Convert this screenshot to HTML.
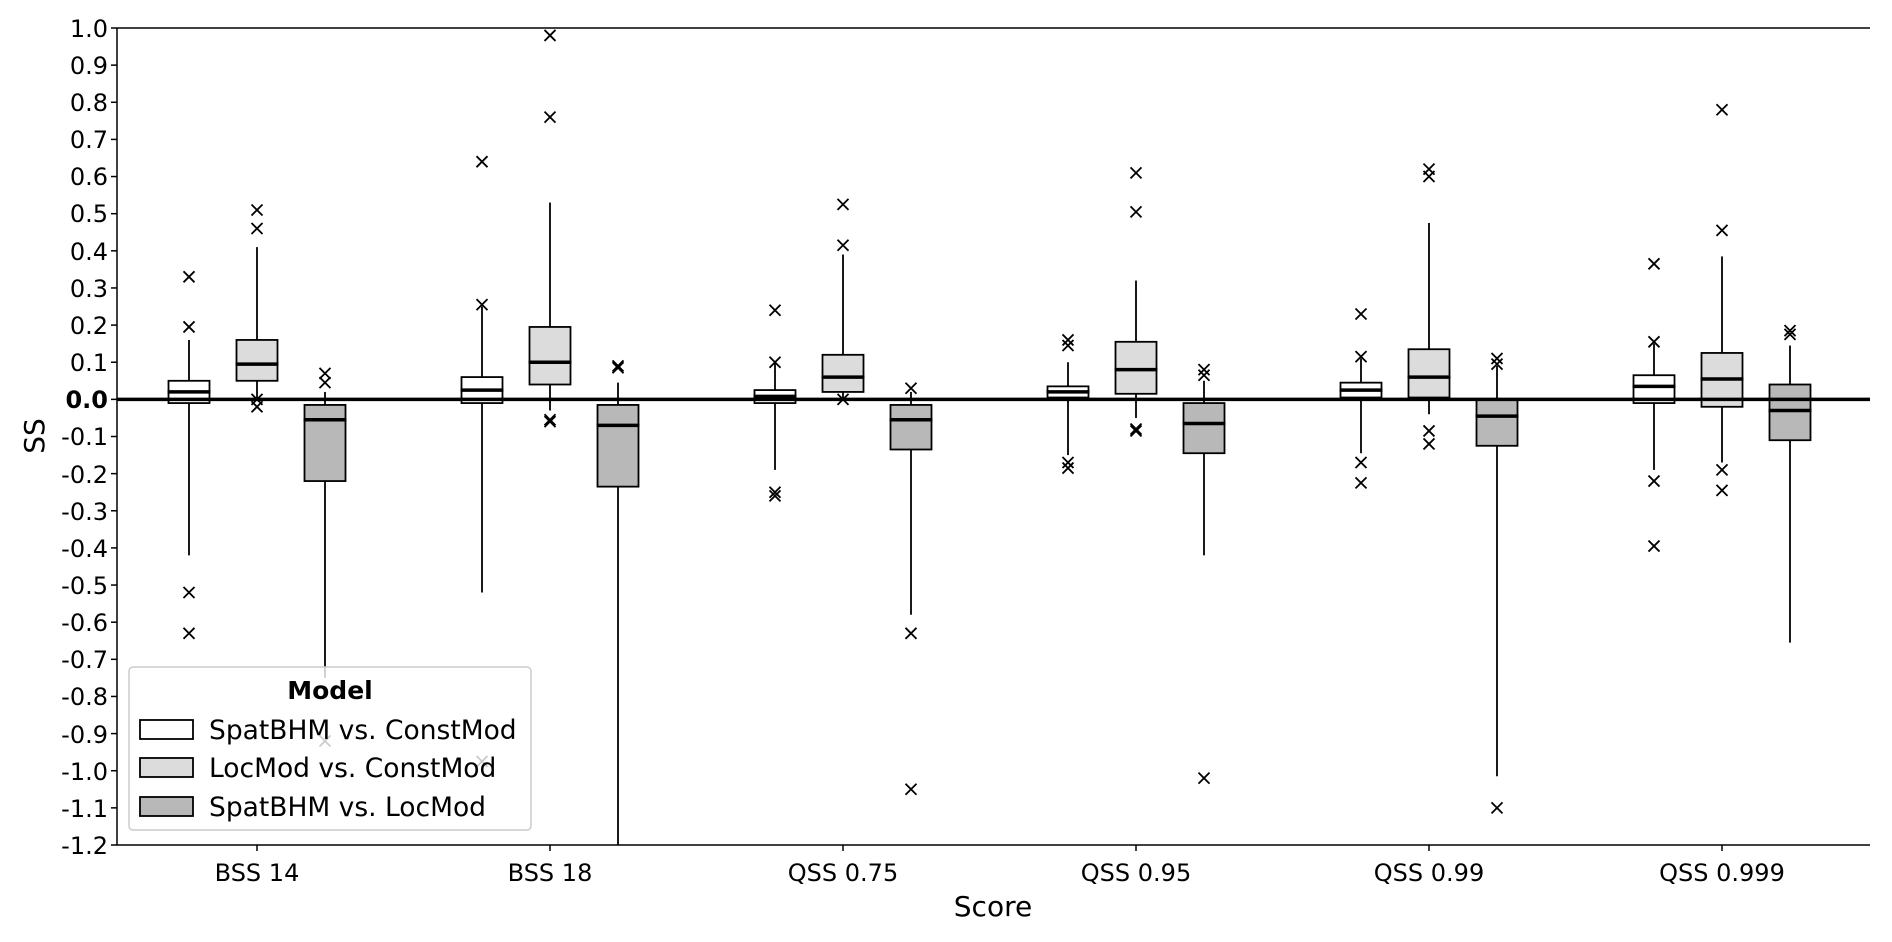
<!DOCTYPE html>
<html><head><meta charset="utf-8"><style>
html,body{margin:0;padding:0;background:#fff;}
svg text{font-family:"DejaVu Sans","Liberation Sans",sans-serif;fill:#000;}
</style></head><body>
<svg id="s" width="1892" height="937" viewBox="0 0 1892 937" xmlns="http://www.w3.org/2000/svg">
<rect width="1892" height="937" fill="#fff"/>
<g id="plot"></g>
<line x1="117" y1="28" x2="1870" y2="28" stroke="#000" stroke-width="1.5"/>
<line x1="117" y1="845" x2="1870" y2="845" stroke="#000" stroke-width="1.5"/>
<line x1="117" y1="28" x2="117" y2="845" stroke="#000" stroke-width="1.5"/>
<g id="ticks"></g>
<g font-size="24" text-anchor="end">
<text x="108" y="37">1.0</text><text x="108" y="74">0.9</text><text x="108" y="111">0.8</text><text x="108" y="148">0.7</text><text x="108" y="185">0.6</text><text x="108" y="222">0.5</text><text x="108" y="260">0.4</text><text x="108" y="297">0.3</text><text x="108" y="334">0.2</text><text x="108" y="371">0.1</text><text x="108" y="408" font-weight="bold">0.0</text><text x="108" y="445">-0.1</text><text x="108" y="483">-0.2</text><text x="108" y="520">-0.3</text><text x="108" y="557">-0.4</text><text x="108" y="594">-0.5</text><text x="108" y="631">-0.6</text><text x="108" y="668">-0.7</text><text x="108" y="705">-0.8</text><text x="108" y="743">-0.9</text><text x="108" y="780">-1.0</text><text x="108" y="817">-1.1</text><text x="108" y="854">-1.2</text>
</g>
<g font-size="24" text-anchor="middle">
<text x="257" y="881">BSS 14</text><text x="550" y="881">BSS 18</text><text x="843" y="881">QSS 0.75</text><text x="1136" y="881">QSS 0.95</text><text x="1429" y="881">QSS 0.99</text><text x="1722" y="881">QSS 0.999</text>
</g>
<text x="993" y="916" font-size="28" text-anchor="middle">Score</text>
<text transform="translate(44,436) rotate(-90)" font-size="28" text-anchor="middle">SS</text>
<g>
<rect x="129" y="667" width="402" height="163" rx="4" fill="#fff" fill-opacity="0.8" stroke="#ccc" stroke-width="1.5"/>
<text x="330" y="699" font-size="25" font-weight="bold" text-anchor="middle">Model</text>
<rect x="140" y="720" width="53" height="19" fill="#fff" stroke="#000" stroke-width="1.8"/>
<rect x="140" y="758" width="53" height="19" fill="#dcdcdc" stroke="#000" stroke-width="1.8"/>
<rect x="140" y="797" width="53" height="19" fill="#b8b8b8" stroke="#000" stroke-width="1.8"/>
<text x="209" y="739" font-size="26.5">SpatBHM vs. ConstMod</text>
<text x="209" y="777" font-size="26.5">LocMod vs. ConstMod</text>
<text x="209" y="816" font-size="26.5">SpatBHM vs. LocMod</text>
</g>
</svg>
<script>
(function(){
var NS="http://www.w3.org/2000/svg";
function Y(v){return 28+(1.0-v)/2.2*817;}
var plot=document.getElementById('plot'),ticks=document.getElementById('ticks');
function el(p,n,a){var e=document.createElementNS(NS,n);for(var k in a)e.setAttribute(k,a[k]);p.appendChild(e);return e;}
for(var i=0;i<=22;i++){var y=Y(1-i*0.1);el(ticks,'line',{x1:111,x2:117,y1:y,y2:y,stroke:'#000','stroke-width':1.5});}
var cx=[257,550,843,1136,1429,1722];
cx.forEach(function(x){el(ticks,'line',{x1:x,x2:x,y1:845,y2:851,stroke:'#000','stroke-width':1.5});});
var fills=['#fff','#dcdcdc','#b8b8b8'];
var D=[
[[-0.01,0.05,0.02,0.16,-0.42,[0.33,0.195,-0.52,-0.63]],[0.05,0.16,0.095,0.41,0.0,[0.51,0.46,0.0,-0.02]],[-0.22,-0.015,-0.055,0.02,-0.75,[0.07,0.045,-0.92]]],
[[-0.01,0.06,0.025,0.25,-0.52,[0.64,0.255,-0.975]],[0.04,0.195,0.1,0.53,-0.03,[0.98,0.76,-0.055,-0.06]],[-0.235,-0.015,-0.07,0.045,-1.2,[0.09,0.085]]],
[[-0.01,0.025,0.008,0.1,-0.19,[0.24,0.1,-0.25,-0.26]],[0.02,0.12,0.06,0.39,0.0,[0.525,0.415,0.0]],[-0.135,-0.015,-0.055,0.02,-0.58,[0.03,-0.63,-1.05]]],
[[0.005,0.035,0.02,0.1,-0.15,[0.16,0.145,-0.17,-0.185]],[0.015,0.155,0.08,0.32,-0.05,[0.61,0.505,-0.08,-0.085]],[-0.145,-0.01,-0.065,0.05,-0.42,[0.08,0.065,-1.02]]],
[[0.005,0.045,0.025,0.11,-0.145,[0.23,0.115,-0.17,-0.225]],[0.005,0.135,0.06,0.475,-0.04,[0.62,0.6,-0.085,-0.12]],[-0.125,0.0,-0.045,0.09,-1.015,[0.11,0.095,-1.1]]],
[[-0.01,0.065,0.035,0.15,-0.19,[0.365,0.155,-0.22,-0.395]],[-0.02,0.125,0.055,0.385,-0.17,[0.78,0.455,-0.19,-0.245]],[-0.11,0.04,-0.03,0.145,-0.655,[0.185,0.175]]]
];
var off=[-68,0,68],hw=20.5;
D.forEach(function(g,gi){g.forEach(function(b,bi){
 var x=cx[gi]+off[bi];
 el(plot,'line',{x1:x,x2:x,y1:Y(b[3]),y2:Y(b[1]),stroke:'#000','stroke-width':1.8});
 el(plot,'line',{x1:x,x2:x,y1:Y(b[0]),y2:Math.min(Y(b[4]),845),stroke:'#000','stroke-width':1.8});
 el(plot,'rect',{x:x-hw,y:Y(b[1]),width:2*hw,height:Y(b[0])-Y(b[1]),fill:fills[bi],stroke:'#000','stroke-width':1.8});
 el(plot,'line',{x1:x-hw-1,x2:x+hw+1,y1:Y(b[2]),y2:Y(b[2]),stroke:'#000','stroke-width':3.5});
 b[5].forEach(function(o){var y=Y(o),s=5.5;
  el(plot,'path',{d:'M'+(x-s)+' '+(y-s)+'L'+(x+s)+' '+(y+s)+'M'+(x-s)+' '+(y+s)+'L'+(x+s)+' '+(y-s),stroke:'#000','stroke-width':1.8});});
});});
el(plot,'line',{x1:117,x2:1870,y1:Y(0),y2:Y(0),stroke:'#000','stroke-width':3.5});
})();
</script>
</body></html>
